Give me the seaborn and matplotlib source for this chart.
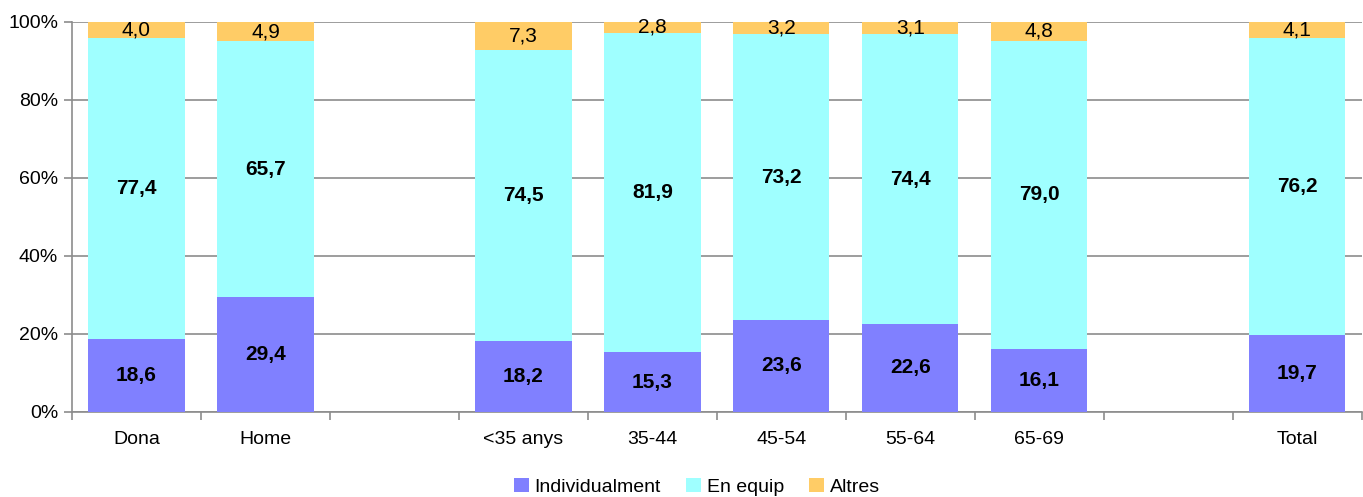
import matplotlib
matplotlib.use("Agg")
import matplotlib.pyplot as plt
import seaborn as sns
import pandas as pd
import numpy as np
from matplotlib import font_manager
from matplotlib.patches import Patch

categories = ["Dona", "Home", "<35 anys", "35-44", "45-54", "55-64", "65-69", "Total"]
order = ["Dona", "Home", " ", "<35 anys", "35-44", "45-54", "55-64", "65-69", "  ", "Total"]
individualment = [18.6, 29.4, 18.2, 15.3, 23.6, 22.6, 16.1, 19.7]
en_equip = [77.4, 65.7, 74.5, 81.9, 73.2, 74.4, 79.0, 76.2]
altres = [4.0, 4.9, 7.3, 2.8, 3.2, 3.1, 4.8, 4.1]
series_names = ["Individualment", "En equip", "Altres"]
colors = ["#8080FF", "#9FFFFF", "#FFCC66"]
yticks = [0, 20, 40, 60, 80, 100]

sns.set_style("white")
names = {f.name for f in font_manager.fontManager.ttflist}
fam = [f for f in ["Liberation Sans Narrow", "Liberation Sans", "DejaVu Sans"] if f in names]
plt.rcParams["font.family"] = fam
plt.rcParams["text.color"] = "black"
plt.rcParams["xtick.color"] = "black"
plt.rcParams["ytick.color"] = "black"

df = pd.DataFrame({"cat": categories, "ind": individualment, "eq": en_equip, "alt": altres})
tot = df["ind"] + df["eq"] + df["alt"]
df["c1"] = df["ind"] / tot * 100
df["c2"] = (df["ind"] + df["eq"]) / tot * 100
df["c3"] = 100.0

fig = plt.figure(figsize=(13.63, 4.97), dpi=100)
ax = fig.add_axes([72 / 1363, 1 - 412 / 497, 1 - 72 / 1363 - 0.0008, 390 / 497])

for col, color in zip(["c3", "c2", "c1"], colors[::-1]):
    sns.barplot(data=df, x="cat", y=col, order=order, color=color, width=0.745,
                saturation=1, ax=ax, zorder=3, edgecolor="none", linewidth=0)

ax.set_ylim(0, 100)
ax.set_xlim(-0.5, len(order) - 0.5)
ax.set_yticks(yticks)
ax.set_yticklabels([f"{v}%" for v in yticks], fontsize=14)
ax.set_xlabel("")
ax.set_ylabel("")
ax.grid(axis="y", color="#8C8C8C", linewidth=1.2, zorder=0)
ax.set_axisbelow(True)
for s in ["top", "right"]:
    ax.spines[s].set_visible(False)
for s in ["left", "bottom"]:
    ax.spines[s].set_color("#8C8C8C")
    ax.spines[s].set_linewidth(1.2)

ax.set_xticks(range(len(order)))
ax.set_xticklabels(order, fontsize=14)
ax.set_xticks(np.arange(-0.5, len(order)), minor=True)
ax.tick_params(axis="x", which="major", bottom=True, length=0, pad=14, labelcolor="black")
ax.tick_params(axis="x", which="minor", bottom=True, length=6, color="#8C8C8C", width=1.2,
               direction="out")
ax.tick_params(axis="y", left=True, length=6, color="#8C8C8C", width=1.2, direction="out",
               pad=4, labelcolor="black")

for i, cat in enumerate(categories):
    xi = order.index(cat)
    r = df.iloc[i]
    ax.text(xi, r["c1"] / 2, f"{r['ind']:.1f}".replace(".", ","), ha="center", va="center",
            fontsize=15, fontweight="bold", color="black", zorder=5)
    ax.text(xi, (r["c1"] + r["c2"]) / 2, f"{r['eq']:.1f}".replace(".", ","), ha="center",
            va="center", fontsize=15, fontweight="bold", color="black", zorder=5)
    ax.text(xi, (r["c2"] + 100) / 2, f"{r['alt']:.1f}".replace(".", ","), ha="center",
            va="center", fontsize=15, color="black", zorder=5)

handles = [Patch(facecolor=c, edgecolor="none", label=n) for c, n in zip(colors, series_names)]
leg = fig.legend(handles=handles, loc="center", bbox_to_anchor=(697 / 1363, 1 - 487 / 497), ncol=3,
                 frameon=False, fontsize=14, handlelength=0.75, handleheight=0.75,
                 handletextpad=0.3, columnspacing=1.3)
for t in leg.get_texts():
    t.set_color("black")

fig.savefig("out.png", dpi=100)
